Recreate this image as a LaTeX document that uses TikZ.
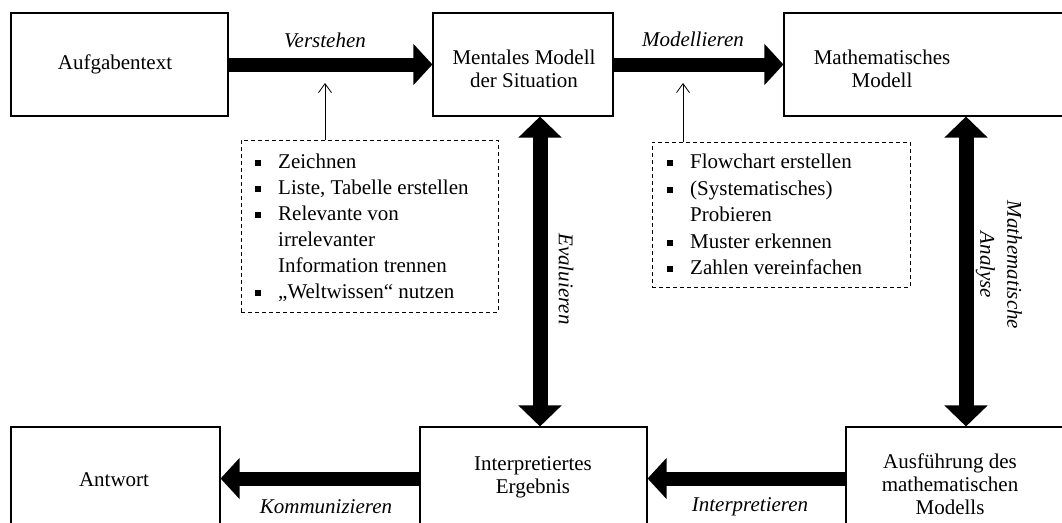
\documentclass[tikz,border=0pt]{standalone}
\usepackage{fontspec}
\setmainfont{Liberation Serif}
\usetikzlibrary{arrows.meta}
% square bullet followed by the item text
\newcommand\sqbul{\makebox[23pt][l]{\rule[2.5pt]{6pt}{6pt}}}
\newcommand\sqind{\hspace*{23pt}}

\begin{document}
\begin{tikzpicture}[x=1pt,y=-1pt,
  every node/.style={font=\fontsize{21}{23}\selectfont, inner sep=0pt},
  stagebox/.style={draw, line width=1.1pt, minimum height=103pt},
  txt/.style={align=center},
  lbl/.style={font=\fontsize{21}{27}\selectfont\itshape, align=center},
  item/.style={anchor=base west},
  hint/.style={draw, line width=0.8pt, dash pattern=on 4pt off 3pt},
  bigarrow/.style={line width=14pt, -{Triangle[length=19pt,width=40pt]}},
  bigdouble/.style={line width=15pt, {Triangle[length=21pt,width=42pt]}-{Triangle[length=21pt,width=42pt]}},
  thinarrow/.style={line width=0.8pt, -{Straight Barb[length=9pt,width=13pt,line width=0.8pt]}}
]
\useasboundingbox (0,0) rectangle (1062,522);
\clip (0,0) rectangle (1062,522);

% stage boxes (upper row)
\node[stagebox, minimum width=217pt] (a)  at (119.5,64.5) {};
\node[stagebox, minimum width=180pt] (m)  at (523,64.5) {};
\node[stagebox, minimum width=290pt] (mm) at (929,64.5) {};
% stage boxes (lower row)
\node[stagebox, minimum width=209pt] (an) at (115.5,478.5) {};
\node[stagebox, minimum width=227pt] (ip) at (533.5,478.5) {};
\node[stagebox, minimum width=290pt] (au) at (991,478.5) {};

% box texts
\node[txt] (ta)  at (115,64) {Aufgabentext};
\node[txt] (tm)  at (524,68.5) {Mentales Modell\\der Situation};
\node[txt] (tmm) at (882,69) {Mathematisches\\Modell};
\node[txt] (tan) at (114,480) {Antwort};
\node[txt] (tip) at (533,477) {Interpretiertes\\Ergebnis};
\node[txt] (tau) at (950,484) {Ausführung des\\mathematischen\\Modells};

% main process arrows
\draw[bigarrow] (a) -- (m);
\draw[bigarrow] (m) -- (mm);
\draw[bigarrow] (ip) -- (an);
\draw[bigarrow] (au) -- (ip);
\coordinate (ev) at (540,0);
\coordinate (ma) at (966,0);
\draw[bigdouble] (ev |- m.south) -- (ev |- ip.north);
\draw[bigdouble] (ma |- mm.south) -- (ma |- au.north);

% arrow labels
\node[lbl] (lv) at (325,40) {Verstehen};
\node[lbl] (lm) at (693,39) {Modellieren};
\node[lbl] (lk) at (326,507) {Kommunizieren};
\node[lbl] (li) at (750,507) {Interpretieren};
\node[lbl, rotate=-90] (le) at (566,279) {Evaluieren};
\node[lbl, rotate=-90] (lma) at (999,265) {Mathematische\\Analyse};

% strategy boxes
\node[hint, minimum width=257pt, minimum height=172pt] (s1) at (369.5,226) {};
\node[hint, minimum width=258pt, minimum height=145pt] (s2) at (781,214.5) {};

\node[item] (s1a) at (255,168) {\sqbul Zeichnen};
\node[item] (s1b) at (255,194) {\sqbul Liste, Tabelle erstellen};
\node[item] (s1c) at (255,220) {\sqbul Relevante von};
\node[item] (s1d) at (255,246) {\sqind irrelevanter};
\node[item] (s1e) at (255,272) {\sqind Information trennen};
\node[item] (s1f) at (255,298) {\sqbul „Weltwissen“ nutzen};

\node[item] (s2a) at (667,168) {\sqbul Flowchart erstellen};
\node[item] (s2b) at (667,195) {\sqbul (Systematisches)};
\node[item] (s2c) at (667,221) {\sqind Probieren};
\node[item] (s2d) at (667,248) {\sqbul Muster erkennen};
\node[item] (s2e) at (667,274) {\sqbul Zahlen vereinfachen};

% strategies feed into the transitions
\coordinate (h1) at (325,83);
\coordinate (h2) at (683,83);
\draw[thinarrow] (h1 |- s1.north) -- (h1);
\draw[thinarrow] (h2 |- s2.north) -- (h2);
\end{tikzpicture}
\end{document}
